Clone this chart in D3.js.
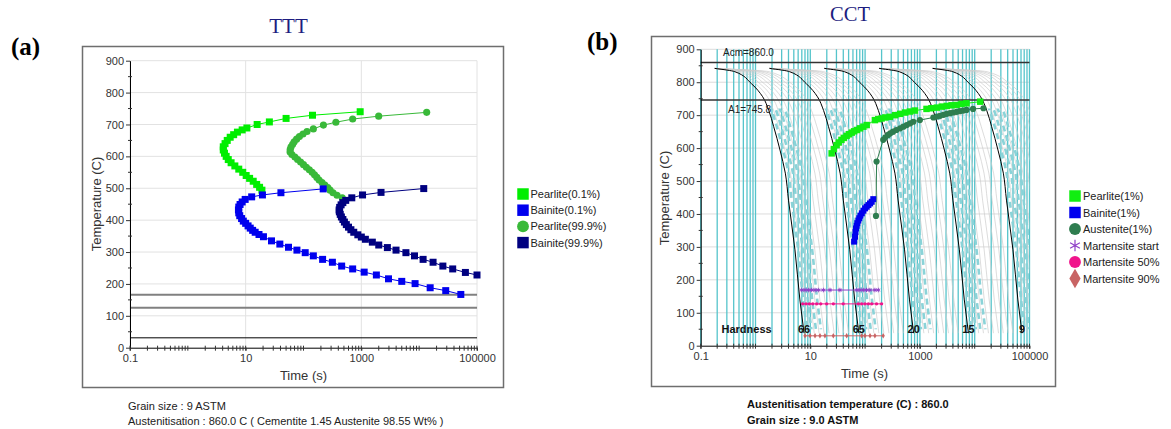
<!DOCTYPE html>
<html>
<head>
<meta charset="utf-8">
<script src="https://cdn.jsdelivr.net/npm/d3@7"></script>
<style>
body { margin: 0; background: #fff; }
svg { display: block; font-family: "Liberation Sans", Arial, sans-serif; }
</style>
</head>
<body>
<svg id="chart" width="1171" height="429"></svg>
<script>
// ---- shared axis values ----
var timeTicks = [0.1, 10, 1000, 100000];
var timeTickLabels = ["0.1", "10", "1000", "100000"];
var tempTicks = [0, 100, 200, 300, 400, 500, 600, 700, 800, 900];
var tempMinor = [50, 150, 250, 350, 450, 550, 650, 750, 850];

// ---- TTT (time s, temperature C) ----
var tttPearliteStart = [[19.1,494],[17.4,503],[15.5,512],[13.5,522],[11.7,531],[10.2,540],[8.9,550],[7.6,560],[6.5,570],[5.6,580],[5.0,590],[4.6,600],[4.3,610],[4.1,620],[4.1,630],[4.4,640],[4.8,650],[5.4,660],[6.2,668],[7.2,676],[8.7,683],[10.5,689],[15.8,700],[25.7,708],[50,719],[143,729],[955,740]];
var tttBainiteStart = [[52500,167],[28800,179],[15500,188],[8500,201],[5000,208],[2950,216],[1820,228],[1120,237],[708,247],[457,256],[316,268],[214,277],[148,288],[107,298],[77,306],[55,315],[39,325],[28,335],[20.3,348],[17,355],[14.6,362],[13.2,368],[12.0,375],[11.0,382],[10.0,390],[9.1,397],[8.5,405],[7.9,414],[7.6,423],[7.5,432],[7.6,441],[8.0,449],[8.7,457],[9.8,465],[12.7,473],[19.5,479],[40.7,486],[219,498]];
var tttPearliteFinish = [[468,470],[380,478],[324,486],[288,494],[263,502],[234,510],[209,518],[186,526],[170,534],[155,542],[141,550],[126,558],[112,566],[100,574],[89,582],[79,590],[71,598],[63,606],[58.6,614],[59,622],[61,630],[65,638],[69,646],[76,654],[85,662],[98,670],[115,678],[148,686],[221,698],[363,707],[708,717],[1995,726],[13490,738]];
var tttBainiteFinish = [[100000,228],[63000,236],[38000,247],[25700,256],[17400,268],[11700,277],[8300,288],[5900,298],[3980,306],[2820,314],[2000,322],[1550,331],[1175,340],[1000,347],[870,354],[740,362],[660,370],[600,378],[550,386],[510,394],[480,402],[452,410],[432,418],[417,426],[413,432],[422,440],[447,448],[479,455],[537,462],[684,470],[1050,479],[2190,487],[12000,499]];
var tttMartensite = [166, 125, 31];
var tttLegend = ["Pearlite(0.1%)", "Bainite(0.1%)", "Pearlite(99.9%)", "Bainite(99.9%)"];

// ---- CCT ----
var cctCool1 = [[0.18,842],[0.42,832],[0.85,795],[1.35,756],[1.75,714],[2.15,665],[2.8,594],[3.5,524],[4.0,442],[5.25,291],[6.46,139],[7.69,38]];
var cctCool2 = [[1.8,842],[4.2,832],[8.5,795],[13.5,756],[17.5,714],[21.5,665],[28,594],[35,524],[40,442],[52.5,291],[64.6,139],[76.9,38]];
var cctCool3 = [[18,842],[42,832],[85,795],[135,756],[175,714],[215,665],[280,594],[350,524],[400,442],[525,291],[646,139],[769,38]];
var cctCool4 = [[180,842],[420,832],[850,795],[1350,756],[1750,714],[2150,665],[2800,594],[3500,524],[4000,442],[5250,291],[6460,139],[7690,38]];
var cctCool5 = [[1710,842],[3990,832],[8100,795],[12800,756],[16600,714],[20400,665],[26600,594],[33300,524],[38000,442],[49900,291],[61400,139],[73000,38]];
var cctHardness = ["66", "65", "20", "15", "9"];
var cctFan = [1.25, 1.55, 1.9, 2.35, 2.9, 3.6, 4.4, 5.4, 6.6];
var cctDashFan = [1.15, 1.4, 1.7, 2.1];
var cctAcm = 860.0, cctA1 = 745.8;
var cctPearlite = [[24.5,584],[26.9,597],[30.2,609],[33,617],[37,625],[41,631],[46,637],[51,642],[57,647],[63,651],[71,655],[81,660],[93,665],[107,670],[151,685],[174,688],[200,690],[234,693],[282,695],[355,700],[437,704],[537,708],[661,711],[813,714],[1320,719],[1620,721],[2040,723],[2510,726],[3090,728],[3800,730],[4680,731],[5750,734],[7080,736],[12600,741]];
var cctBainite = [[63,316],[65.5,331],[66.8,345],[68.2,356],[70.1,364],[72.1,372],[75.2,380],[78.3,387],[82.2,395],[87.1,402],[93.3,410],[100,417],[107,422],[115,427],[123,432],[132,437],[141,445]];
var cctAustenite = [[158,394],[162,559],[214,625],[234,633],[263,640],[288,645],[324,650],[372,655],[437,660],[501,665],[575,670],[661,675],[759,680],[1000,685],[1760,693],[2040,696],[2340,698],[2690,701],[3090,704],[3550,706],[4070,708],[4680,710],[5370,712],[6170,714],[7080,716],[9330,719],[14450,721]];
var cctMsTemp = 169, cctM50Temp = 127, cctM90Temp = 30;
var cctMsTimes = [6.97,8.0,9.2,10.6,12.2,14.0,17.3,22.9,34.7,70.8,80.4,92.5,106,122,151,174];
var cctM50Times = [7.26,8.36,9.6,11.1,13.1,15.5,19.9,26.3,39.8,75.2,86.7,99.5,115,132,162,200];
var cctM90Times = [8.0,9.9,12.2,15.0,18.5,26.3,46.1,86.7,99.5,123,151,214];
var cctLegend = ["Pearlite(1%)", "Bainite(1%)", "Austenite(1%)", "Martensite start", "Martensite 50%", "Martensite 90%"];

var svg = d3.select("#chart");

function line(x, y) {
    return d3.line().x(function (d) { return x(d[0]); }).y(function (d) { return y(d[1]); });
}

function drawAxes(g, x, y) {
    var x0 = x.range()[0], y0 = y(0);
    var ya = g.append("g")
        .attr("transform", "translate(" + x0 + ",0)")
        .call(d3.axisLeft(y).tickValues(tempTicks).tickSize(4).tickPadding(2).tickSizeOuter(0));
    g.selectAll(null).data(tempMinor).enter().append("line")
        .attr("x1", x0 - 2).attr("x2", x0 + 2)
        .attr("y1", function (d) { return y(d); }).attr("y2", function (d) { return y(d); })
        .attr("stroke", "#333");
    var xa = g.append("g")
        .attr("transform", "translate(0," + y0 + ")")
        .call(d3.axisBottom(x).tickValues(timeTicks)
            .tickFormat(function (d, i) { return timeTickLabels[i]; })
            .tickSize(3).tickPadding(4).tickSizeOuter(0));
    g.selectAll(null).data(x.ticks()).enter().append("line")
        .attr("x1", function (d) { return x(d); }).attr("x2", function (d) { return x(d); })
        .attr("y1", y0 - 2).attr("y2", y0 + 3)
        .attr("stroke", "#333");
    [ya, xa].forEach(function (a) {
        a.attr("font-family", "'Liberation Sans', Arial, sans-serif").attr("font-size", 11);
        a.selectAll("text").attr("fill", "#333");
        a.selectAll(".tick line").attr("stroke", "#333");
        a.select(".domain").attr("stroke", "#000");
    });
}

function drawSeries(g, x, y, data, color, shape, size) {
    g.append("path").datum(data)
        .attr("fill", "none").attr("stroke", color).attr("stroke-width", 1)
        .attr("d", line(x, y));
    g.selectAll(null).data(data).enter().append("path")
        .attr("transform", function (d) { return "translate(" + x(d[0]) + "," + y(d[1]) + ")"; })
        .attr("d", d3.symbol().type(shape).size(size))
        .attr("fill", color);
}

// ================= (a) TTT =================
var xA = d3.scaleLog().domain([0.1, 100000]).range([130, 477]);
var yA = d3.scaleLinear().domain([0, 900]).range([347.7, 60.7]);

svg.append("text").attr("x", 11).attr("y", 55)
    .attr("font-family", "'Liberation Serif', serif").attr("font-weight", "bold").attr("font-size", 25)
    .text("(a)");
svg.append("text").attr("x", 288.5).attr("y", 33).attr("text-anchor", "middle")
    .attr("font-family", "'Liberation Serif', serif").attr("font-size", 21).attr("fill", "#1d1d80")
    .text("TTT");
svg.append("rect").attr("x", 82.5).attr("y", 46.5).attr("width", 421).attr("height", 341)
    .attr("fill", "#fff").attr("stroke", "#6e6e6e").attr("stroke-width", 1.5);

var gA = svg.append("g");
gA.selectAll(null).data(tempTicks.slice(1)).enter().append("line")
    .attr("x1", 130).attr("x2", 477)
    .attr("y1", function (d) { return yA(d); }).attr("y2", function (d) { return yA(d); })
    .attr("stroke", "#e2e2e2");
gA.selectAll(null).data(timeTicks).enter().append("line")
    .attr("x1", function (d) { return xA(d); }).attr("x2", function (d) { return xA(d); })
    .attr("y1", yA(0)).attr("y2", yA(900))
    .attr("stroke", "#e2e2e2");
var mStyle = [["#808080", 2], ["#808080", 2], ["#000", 1]];
gA.selectAll(null).data(tttMartensite).enter().append("line")
    .attr("x1", 130).attr("x2", 477)
    .attr("y1", function (d) { return yA(d); }).attr("y2", function (d) { return yA(d); })
    .attr("stroke", function (d, i) { return mStyle[i][0]; })
    .attr("stroke-width", function (d, i) { return mStyle[i][1]; });

var tttColors = ["#00ee00", "#0000ee", "#39b939", "#000080"];
drawSeries(gA, xA, yA, tttPearliteStart, tttColors[0], d3.symbolSquare, 49);
drawSeries(gA, xA, yA, tttPearliteFinish, tttColors[2], d3.symbolCircle, 40);
drawSeries(gA, xA, yA, tttBainiteStart, tttColors[1], d3.symbolSquare, 49);
drawSeries(gA, xA, yA, tttBainiteFinish, tttColors[3], d3.symbolSquare, 49);

drawAxes(gA, xA, yA);
gA.append("text").attr("transform", "translate(101,204) rotate(-90)").attr("text-anchor", "middle")
    .attr("font-size", 13).attr("fill", "#333").text("Temperature (C)");
gA.append("text").attr("x", 303.5).attr("y", 380).attr("text-anchor", "middle")
    .attr("font-size", 13).attr("fill", "#333").text("Time (s)");

var legA = svg.append("g");
var legAShapes = [d3.symbolSquare, d3.symbolSquare, d3.symbolCircle, d3.symbolSquare];
legAShapes.forEach(function (s, i) {
    var yy = 194 + i * 16.2;
    legA.append("path").attr("transform", "translate(523," + yy + ")")
        .attr("d", d3.symbol().type(s).size(s === d3.symbolCircle ? 110 : 132))
        .attr("fill", tttColors[i]);
    legA.append("text").attr("x", 530.5).attr("y", yy + 4).attr("font-size", 11).attr("fill", "#222")
        .text(tttLegend[i]);
});

svg.append("text").attr("x", 128).attr("y", 410).attr("font-size", 11).attr("fill", "#222")
    .text("Grain size : 9 ASTM");
svg.append("text").attr("x", 128).attr("y", 424.5).attr("font-size", 11).attr("fill", "#222")
    .text("Austenitisation : 860.0 C ( Cementite 1.45 Austenite 98.55 Wt% )");

// ================= (b) CCT =================
var xB = d3.scaleLog().domain([0.1, 100000]).range([700.7, 1029.5]);
var yB = d3.scaleLinear().domain([0, 900]).range([345.7, 49.3]);

svg.append("text").attr("x", 587).attr("y", 50)
    .attr("font-family", "'Liberation Serif', serif").attr("font-weight", "bold").attr("font-size", 25)
    .text("(b)");
svg.append("text").attr("x", 850).attr("y", 21).attr("text-anchor", "middle")
    .attr("font-family", "'Liberation Serif', serif").attr("font-size", 20.5).attr("fill", "#1d1d80")
    .text("CCT");
svg.append("rect").attr("x", 651.5).attr("y", 36.5).attr("width", 404).attr("height", 350)
    .attr("fill", "#fff").attr("stroke", "#6e6e6e").attr("stroke-width", 1.5);

var gB = svg.append("g");
var defs = svg.append("defs");
defs.append("clipPath").attr("id", "clipB").append("rect")
    .attr("x", xB(0.1)).attr("y", yB(900)).attr("width", xB(100000) - xB(0.1)).attr("height", yB(0) - yB(900));
defs.append("clipPath").attr("id", "clipDash").append("rect")
    .attr("x", xB(0.1)).attr("y", yB(720)).attr("width", xB(100000) - xB(0.1)).attr("height", yB(50) - yB(720));

gB.selectAll(null).data(tempTicks.slice(1)).enter().append("line")
    .attr("x1", xB(0.1)).attr("x2", xB(100000))
    .attr("y1", function (d) { return yB(d); }).attr("y2", function (d) { return yB(d); })
    .attr("stroke", "#dcdcdc");
gB.selectAll(null).data(xB.ticks()).enter().append("line")
    .attr("x1", function (d) { return xB(d); }).attr("x2", function (d) { return xB(d); })
    .attr("y1", yB(0)).attr("y2", yB(900))
    .attr("stroke", "#55c4cb").attr("stroke-width", 1.3);

var cctCurves = [cctCool1, cctCool2, cctCool3, cctCool4, cctCool5];
var curveG = gB.append("g").attr("clip-path", "url(#clipB)");
var lineB = line(xB, yB).curve(d3.curveMonotoneY);
function fanCurve(c, f) {
    var ts = c[0][0];
    return c.map(function (d) { return [ts + (d[0] - ts) * f, d[1]]; });
}
cctCurves.forEach(function (c) {
    cctFan.forEach(function (f) {
        curveG.append("path").attr("d", lineB(fanCurve(c, f)))
            .attr("fill", "none").attr("stroke", "#cdcdcd").attr("stroke-width", 0.7);
    });
});
var dashG = curveG.append("g").attr("clip-path", "url(#clipDash)");
cctCurves.forEach(function (c) {
    cctDashFan.forEach(function (f) {
        dashG.append("path").attr("d", lineB(fanCurve(c, f)))
            .attr("fill", "none").attr("stroke", "#8ad3d8").attr("stroke-width", 2.6)
            .attr("stroke-dasharray", "6,4");
    });
});
cctCurves.forEach(function (c) {
    curveG.append("path").attr("d", lineB(c))
        .attr("fill", "none").attr("stroke", "#000").attr("stroke-width", 1);
});

[cctAcm, cctA1].forEach(function (t) {
    gB.append("line").attr("x1", xB(0.1)).attr("x2", xB(100000))
        .attr("y1", yB(t)).attr("y2", yB(t))
        .attr("stroke", "#333").attr("stroke-width", 1.5);
});
gB.append("text").attr("x", 723).attr("y", 56).attr("font-size", 10).attr("fill", "#222")
    .text("Acm=" + cctAcm.toFixed(1));
gB.append("text").attr("x", 728).attr("y", 113).attr("font-size", 10).attr("fill", "#222")
    .text("A1=" + cctA1.toFixed(1));

var cctColors = ["#11ee11", "#0000ee", "#2e7d4f", "#9040c8", "#f0148c", "#c86464"];
drawSeries(gB, xB, yB, cctPearlite, cctColors[0], d3.symbolSquare, 42);
drawSeries(gB, xB, yB, cctAustenite, cctColors[2], d3.symbolCircle, 30);
drawSeries(gB, xB, yB, cctBainite, cctColors[1], d3.symbolSquare, 36);

function martensite(times, temp, color, shape, size, filled) {
    var pts = times.map(function (t) { return [t, temp]; });
    gB.append("path").datum(pts).attr("fill", "none").attr("stroke", color).attr("stroke-width", 1)
        .attr("d", line(xB, yB));
    gB.selectAll(null).data(pts).enter().append("path")
        .attr("transform", function (d) { return "translate(" + xB(d[0]) + "," + yB(d[1]) + ")"; })
        .attr("d", d3.symbol().type(shape).size(size))
        .attr("fill", filled ? color : "none").attr("stroke", filled ? "none" : color);
}
martensite(cctMsTimes, cctMsTemp, cctColors[3], d3.symbolAsterisk, 14, false);
martensite(cctM50Times, cctM50Temp, cctColors[4], d3.symbolCircle, 9, true);
martensite(cctM90Times, cctM90Temp, cctColors[5], d3.symbolDiamond, 9, true);

gB.append("text").attr("x", 721.5).attr("y", 333).attr("font-size", 11).attr("font-weight", "bold")
    .attr("fill", "#111").text("Hardness");
gB.selectAll(null).data(cctCurves).enter().append("text")
    .attr("x", function (c) { return xB(c[c.length - 1][0]); }).attr("y", 333)
    .attr("text-anchor", "middle").attr("font-size", 11).attr("font-weight", "bold").attr("fill", "#111")
    .text(function (c, i) { return cctHardness[i]; });

drawAxes(gB, xB, yB);
gB.append("text").attr("transform", "translate(669,198) rotate(-90)").attr("text-anchor", "middle")
    .attr("font-size", 13).attr("fill", "#333").text("Temperature (C)");
gB.append("text").attr("x", 864.5).attr("y", 378).attr("text-anchor", "middle")
    .attr("font-size", 13).attr("fill", "#333").text("Time (s)");

var legB = svg.append("g");
var legBShapes = [d3.symbolSquare, d3.symbolSquare, d3.symbolCircle, d3.symbolAsterisk, d3.symbolCircle, d3.symbolDiamond];
legBShapes.forEach(function (s, i) {
    var yy = 196 + i * 16.5;
    var p = legB.append("path").attr("transform", "translate(1075," + yy + ")");
    if (s === d3.symbolAsterisk) {
        p.attr("d", d3.symbol().type(s).size(90)).attr("fill", "none").attr("stroke", cctColors[i]).attr("stroke-width", 1.2);
    } else {
        p.attr("d", d3.symbol().type(s).size(s === d3.symbolSquare ? 132 : 110)).attr("fill", cctColors[i]);
    }
    legB.append("text").attr("x", 1083).attr("y", yy + 4).attr("font-size", 11).attr("fill", "#222")
        .text(cctLegend[i]);
});

svg.append("text").attr("x", 747).attr("y", 408).attr("font-size", 11).attr("font-weight", "bold").attr("fill", "#111")
    .text("Austenitisation temperature (C) : 860.0");
svg.append("text").attr("x", 747).attr("y", 424).attr("font-size", 11).attr("font-weight", "bold").attr("fill", "#111")
    .text("Grain size : 9.0 ASTM");
</script>
</body>
</html>
